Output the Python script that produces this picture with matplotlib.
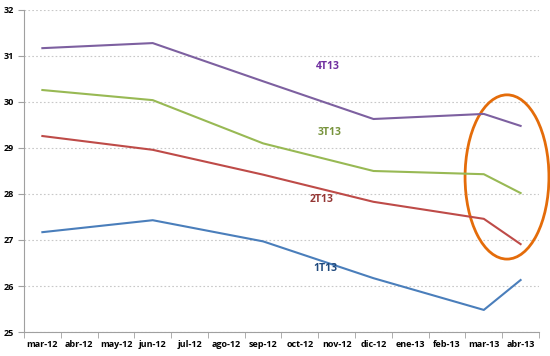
import matplotlib.pyplot as plt
from matplotlib.patches import Ellipse
import numpy as np

months = ["mar-12", "abr-12", "may-12", "jun-12", "jul-12", "ago-12", "sep-12",
          "oct-12", "nov-12", "dic-12", "ene-13", "feb-13", "mar-13", "abr-13"]
# data only exists for these months (Excel joins the gaps)
obs_idx = [0, 3, 6, 9, 12, 13]
t1 = [27.17, 27.43, 26.97, 26.17, 25.48, 26.13]
t2 = [29.26, 28.96, 28.42, 27.83, 27.46, 26.91]
t3 = [30.26, 30.04, 29.10, 28.50, 28.43, 28.02]
t4 = [31.17, 31.28, 30.45, 29.63, 29.74, 29.48]
names = ["1T13", "2T13", "3T13", "4T13"]

line_cols = ["#4A7EBB", "#BE4B48", "#98B954", "#7D60A0"]
text_cols = ["#1F497D", "#943634", "#77933C", "#7030A0"]
label_pos = [(7.7, 26.39), (7.6, 27.87), (7.8, 29.33), (7.76, 30.78)]

plt.rcParams['font.family'] = ['Open Sans', 'DejaVu Sans']
fig = plt.figure(figsize=(5.5, 3.56), dpi=100)
ax = fig.add_axes([0.0436, 0.0674, 0.9364, 0.9046])

for vals, lc, tc, nm, (lx, ly) in zip([t1, t2, t3, t4], line_cols, text_cols, names, label_pos):
    ax.plot(obs_idx, vals, color=lc, lw=1.5)
    ax.text(lx, ly, nm, color=tc, fontsize=7.5, fontweight='bold', ha='center', va='center')

ax.add_patch(Ellipse((12.63, 28.37), 2.28, 3.57, fill=False, edgecolor="#E46C0A",
                     lw=2, clip_on=False))

ax.set_xlim(-0.5, 13.5)
ax.set_ylim(25, 32)
ax.set_xticks(range(len(months)))
ax.set_xticklabels(months)
ax.set_xticks(np.arange(-0.5, 14, 1), minor=True)
ax.tick_params(axis='x', which='major', length=0, labelsize=6.5, pad=6)
ax.tick_params(axis='x', which='minor', length=4, direction='out', color='#A0A0A0')
ax.set_yticks(range(25, 33))
ax.tick_params(axis='y', length=4, direction='out', color='#A0A0A0', labelsize=6.5, pad=3)
for lab in ax.get_xticklabels() + ax.get_yticklabels():
    lab.set_fontweight('bold')

ax.yaxis.grid(True, linestyle=(0, (1.5, 2)), color='#C8C8C8', lw=0.8)
ax.set_axisbelow(True)
for s in ['top', 'right']:
    ax.spines[s].set_visible(False)
for s in ['left', 'bottom']:
    ax.spines[s].set_color('#A0A0A0')

fig.savefig("out.png", dpi=100)
